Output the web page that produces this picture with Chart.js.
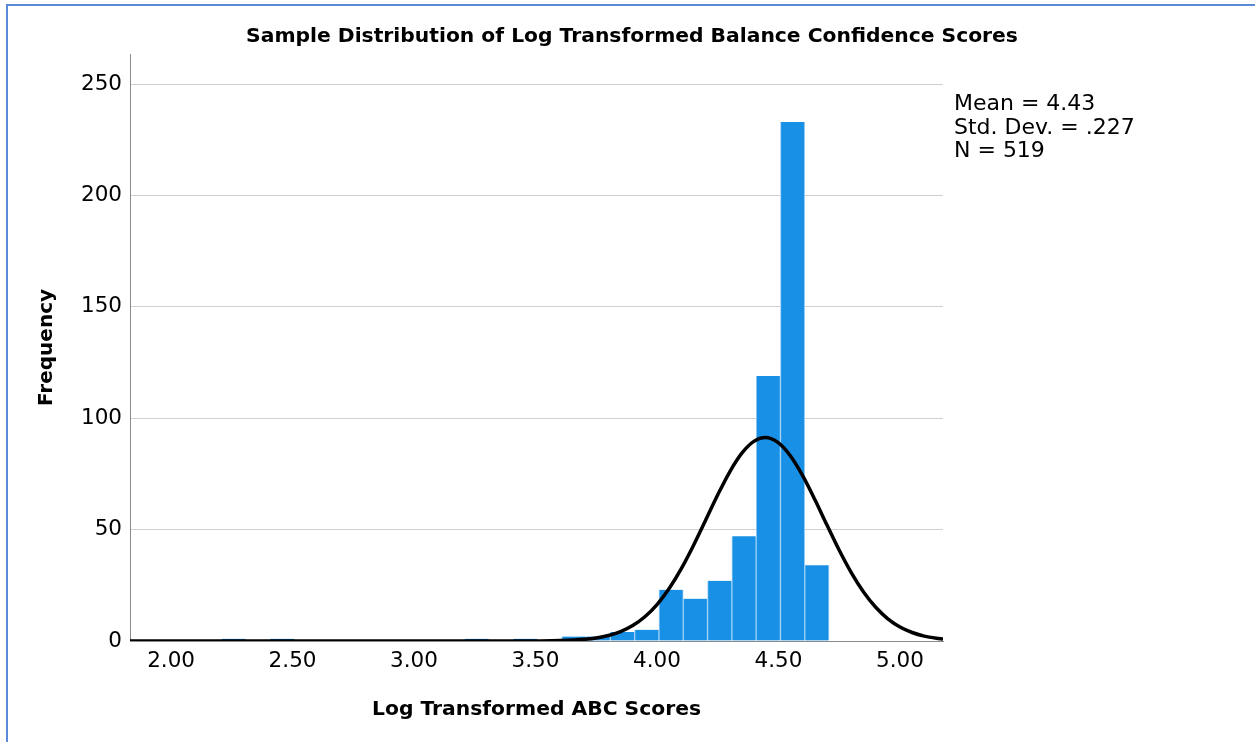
<!DOCTYPE html>
<html>
<head>
<meta charset="utf-8">
<script src="https://cdn.jsdelivr.net/npm/chart.js@4.4.1/dist/chart.umd.min.js"></script>
<style>
  html, body { margin: 0; padding: 0; background: #ffffff; overflow: hidden; }
  #wrap { position: relative; width: 1255px; height: 742px; }
  #frame { position: absolute; left: 6px; top: 4px; width: 1300px; height: 800px;
           border-top: 2px solid #5b8ad8; border-left: 2px solid #5b8ad8; box-sizing: border-box; }
  canvas { position: absolute; left: 0; top: 0; }
</style>
</head>
<body>
<div id="wrap">
  <div id="frame"></div>
  <canvas id="c" width="1255" height="742"></canvas>
</div>
<script>
// ---- data ----
const chartTitle = 'Sample Distribution of Log Transformed Balance Confidence Scores';
const xTitle = 'Log Transformed ABC Scores';
const yTitle = 'Frequency';
const statLines = ['Mean = 4.43', 'Std. Dev. = .227', 'N = 519'];

const xTicks = [2.00, 2.50, 3.00, 3.50, 4.00, 4.50, 5.00];
const yTicks = [0, 50, 100, 150, 200, 250];

// histogram bins (bin midpoints, width 0.1) and their frequencies
const binMids = [2.258, 2.458, 3.258, 3.458, 3.658, 3.758, 3.858, 3.958, 4.058, 4.158, 4.258, 4.358, 4.458, 4.558, 4.658];
const binCounts = [1, 1, 1, 1, 2, 2, 4, 5, 23, 19, 27, 47, 119, 233, 34];

// normal curve, points
const curveX = [1.83, 3.40, 3.50, 3.60, 3.70, 3.75, 3.80, 3.85, 3.90, 3.95, 4.00, 4.05, 4.10, 4.15, 4.20, 4.25, 4.30, 4.35, 4.40, 4.445, 4.50, 4.55, 4.60, 4.65, 4.70, 4.75, 4.80, 4.85, 4.90, 4.95, 5.00, 5.05, 5.10, 5.15, 5.177];
const curveY = [0.0, 0.01, 0.04, 0.19, 0.74, 1.38, 2.47, 4.23, 6.93, 10.89, 16.36, 23.57, 32.49, 42.90, 54.21, 65.63, 76.07, 84.42, 89.71, 91.3, 88.94, 82.96, 74.12, 63.39, 51.91, 40.72, 30.58, 21.98, 15.13, 9.98, 6.30, 3.81, 2.20, 1.22, 0.87];

const xMin = 1.831, xMax = 5.177;
const yMin = 0, yMax = 263.5;

// ---- build chart ----
const FONT = "'DejaVu Sans', 'Noto Sans', sans-serif";

const textPlugin = {
  id: 'texts',
  afterDraw(chart) {
    const ctx = chart.ctx;
    ctx.save();
    ctx.fillStyle = '#000';
    ctx.font = 'bold 20.3px ' + FONT;
    ctx.textAlign = 'center';
    ctx.textBaseline = 'middle';
    ctx.fillText(chartTitle, 632, 37);
    ctx.font = '22px ' + FONT;
    ctx.textAlign = 'left';
    ctx.textBaseline = 'alphabetic';
    const ys = [110, 133.5, 157];
    statLines.forEach((t, i) => ctx.fillText(t, 954, ys[i]));
    ctx.restore();
  }
};

new Chart(document.getElementById('c'), {
  type: 'bar',
  data: {
    datasets: [
      {
        type: 'line',
        data: curveX.map((x, i) => ({ x: x, y: curveY[i] })),
        borderColor: '#000000',
        borderWidth: 3.5,
        pointRadius: 0,
        cubicInterpolationMode: 'monotone',
        fill: false,
        order: 0
      },
      {
        type: 'bar',
        data: binMids.map((x, i) => ({ x: x, y: binCounts[i] })),
        backgroundColor: '#1890e6',
        borderColor: '#9fd0f5',
        borderWidth: { left: 1, right: 1, top: 0, bottom: 0 },
        borderSkipped: false,
        barPercentage: 1.0,
        categoryPercentage: 1.0,
        order: 1
      }
    ]
  },
  options: {
    responsive: false,
    animation: false,
    events: [],
    layout: { padding: { top: 54, right: 312, left: 0, bottom: 0 } },
    plugins: { legend: { display: false }, tooltip: { enabled: false }, title: { display: false } },
    scales: {
      x: {
        type: 'linear',
        offset: false,
        min: xMin, max: xMax,
        afterBuildTicks: s => { s.ticks = xTicks.map(v => ({ value: v })); },
        afterFit: s => { s.height = 101; },
        ticks: { callback: v => Number(v).toFixed(2), font: { size: 21.5, family: FONT }, color: '#000', padding: 8, maxRotation: 0, autoSkip: false },
        grid: { display: false, drawTicks: false, offset: false },
        border: { display: true, color: '#8a8a8a', width: 1 },
        title: { display: true, text: xTitle, color: '#000', font: { size: 20.3, weight: 'bold', family: FONT }, padding: { top: 0, bottom: 20 } }
      },
      y: {
        min: yMin, max: yMax,
        afterBuildTicks: s => { s.ticks = yTicks.map(v => ({ value: v })); },
        afterFit: s => { s.width = 130; },
        ticks: { font: { size: 21.5, family: FONT }, color: '#000', padding: 8 },
        grid: { color: '#cfcfcf', lineWidth: 1, drawTicks: false },
        border: { display: true, color: '#8a8a8a', width: 1 },
        title: { display: true, text: yTitle, color: '#000', font: { size: 20, weight: 'bold', family: FONT }, padding: { top: 35, bottom: 0 } }
      }
    }
  },
  plugins: [textPlugin]
});
</script>
</body>
</html>
